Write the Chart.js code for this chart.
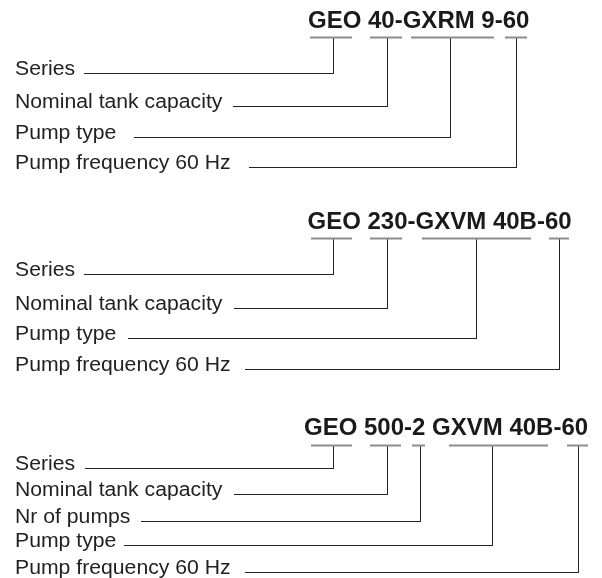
<!DOCTYPE html>
<html>
<head>
<meta charset="utf-8">
<script src="https://cdn.jsdelivr.net/npm/chart.js@4"></script>
<style>
  html, body { margin: 0; padding: 0; background: #ffffff; }
  #wrap { position: relative; width: 602px; height: 578px; }
</style>
</head>
<body>
<div id="wrap"><canvas id="c"></canvas></div>
<script>
// ---- Data (diagram coordinates in a 602 x 578 data space) ----
const blockCodes = ["GEO 40-GXRM 9-60", "GEO 230-GXVM 40B-60", "GEO 500-2 GXVM 40B-60"];
const codeX = [308, 307.5, 304];
const codeBaseline = [28, 228.5, 435];

const rowLabels = [
  ["Series", "Nominal tank capacity", "Pump type", "Pump frequency 60 Hz"],
  ["Series", "Nominal tank capacity", "Pump type", "Pump frequency 60 Hz"],
  ["Series", "Nominal tank capacity", "Nr of pumps", "Pump type", "Pump frequency 60 Hz"]
];
const rowLineY = [
  [73.5, 106.5, 137.5, 167.5],
  [274.5, 308.5, 338.5, 369.5],
  [468.5, 494.5, 521.5, 545.5, 572.5]
];
const leaderStartX = [
  [84, 233, 134, 249],
  [84, 234, 128, 245],
  [85, 234, 141, 124, 245]
];
const dropX = [
  [333.5, 387.5, 450.5, 516.5],
  [333.5, 387.5, 476.5, 559.5],
  [333.5, 387.5, 420.5, 492.5, 578.5]
];
const underlineY = [37.5, 238.5, 445.5];
const underlineFrom = [
  [310, 370, 411, 505],
  [311, 370, 422, 549],
  [311, 370, 412, 449, 567]
];
const underlineTo = [
  [352, 402, 494, 527],
  [352, 402, 531, 569],
  [352, 401, 425, 548, 588]
];

// ---- Build datasets ----
const datasets = [];
blockCodes.forEach((code, b) => {
  underlineFrom[b].forEach((x0, i) => {
    datasets.push({
      data: [{x: x0, y: underlineY[b]}, {x: underlineTo[b][i], y: underlineY[b]}],
      showLine: true, borderColor: '#8c8c8c', borderWidth: 2,
      pointRadius: 0, pointHoverRadius: 0, fill: false
    });
  });
  dropX[b].forEach((dx, i) => {
    datasets.push({
      data: [
        {x: dx, y: underlineY[b]},
        {x: dx, y: rowLineY[b][i]},
        {x: leaderStartX[b][i], y: rowLineY[b][i]}
      ],
      showLine: true, borderColor: '#222222', borderWidth: 1,
      pointRadius: 0, pointHoverRadius: 0, fill: false,
      borderJoinStyle: 'miter'
    });
  });
});

// ---- Text plugin: places texts through the chart scales ----
const textPlugin = {
  id: 'diagramText',
  afterDatasetsDraw(chart) {
    const ctx = chart.ctx;
    const xs = chart.scales.x, ys = chart.scales.y;
    ctx.save();
    ctx.textBaseline = 'alphabetic';
    ctx.textAlign = 'left';
    blockCodes.forEach((code, b) => {
      ctx.fillStyle = '#1a1a1a';
      ctx.font = 'bold 24px "Liberation Sans", Arial, Helvetica, sans-serif';
      ctx.fillText(code, xs.getPixelForValue(codeX[b]), ys.getPixelForValue(codeBaseline[b]));
      ctx.font = '20px "Liberation Sans", Arial, Helvetica, sans-serif';
      rowLabels[b].forEach((lab, i) => {
        const px = xs.getPixelForValue(15);
        const py = ys.getPixelForValue(rowLineY[b][i] + 1.5);
        ctx.save();
        ctx.translate(px, py);
        ctx.scale(1.06, 1);
        ctx.fillStyle = '#222222';
        ctx.fillText(lab, 0, 0);
        ctx.restore();
      });
    });
    ctx.restore();
  }
};

new Chart(document.getElementById('c'), {
  type: 'scatter',
  data: { datasets },
  options: {
    responsive: true,
    maintainAspectRatio: false,
    animation: false,
    events: [],
    layout: { padding: 0 },
    plugins: { legend: { display: false }, tooltip: { enabled: false } },
    scales: {
      x: { type: 'linear', min: 0, max: 602, display: false },
      y: { type: 'linear', min: 0, max: 578, reverse: true, display: false }
    }
  },
  plugins: [textPlugin]
});
</script>
</body>
</html>
